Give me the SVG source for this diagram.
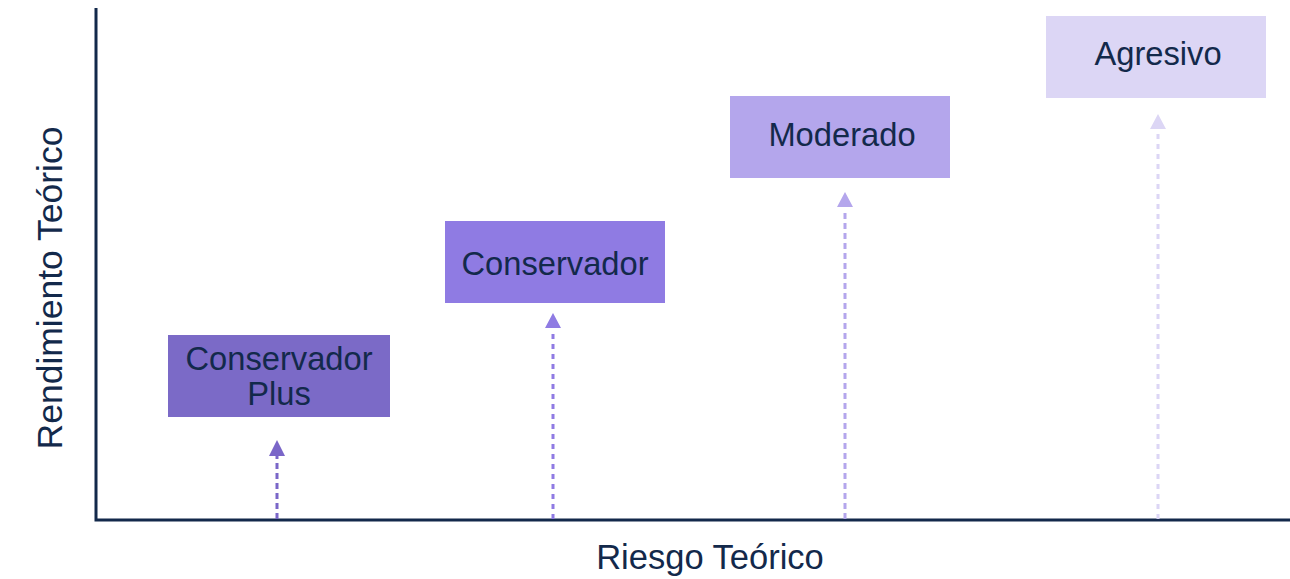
<svg xmlns="http://www.w3.org/2000/svg" width="1290" height="579" viewBox="0 0 1290 579">
<style>
  .lbl{font-family:"Liberation Sans",Arial,sans-serif;font-size:32.7px;fill:#13294b;text-anchor:middle}
  .ax{font-family:"Liberation Sans",Arial,sans-serif;font-size:34.5px;fill:#13294b;text-anchor:middle}
  .axv{font-family:"Liberation Sans",Arial,sans-serif;font-size:35.5px;fill:#13294b;text-anchor:middle}
  .axis{stroke:#13294b;stroke-width:3;fill:none}
</style>
<rect width="1290" height="579" fill="#ffffff"/>
<g id="axes">
  <polyline class="axis" points="96,8 96,520 1290,520"/>
  <text class="ax" x="710" y="569">Riesgo Teórico</text>
  <text class="axv" transform="translate(62,288) rotate(-90)" x="0" y="0">Rendimiento Teórico</text>
</g>
<g id="connectors">
  <line x1="277" y1="519" x2="277" y2="456" stroke="#7a66c8" stroke-width="3" stroke-dasharray="6,4"/>
  <polygon points="277,440 269,456 285,456" fill="#7a66c8"/>
  <line x1="553" y1="519" x2="553" y2="330" stroke="#8f7be3" stroke-width="3" stroke-dasharray="5,5"/>
  <polygon points="553,313 545,328 561,328" fill="#8f7be3"/>
  <line x1="845" y1="519" x2="845" y2="209" stroke="#b4a6ec" stroke-width="3" stroke-dasharray="6,4"/>
  <polygon points="845,192 837,207 853,207" fill="#b4a6ec"/>
  <line x1="1158" y1="519" x2="1158" y2="131" stroke="#dcd6f5" stroke-width="3" stroke-dasharray="5,5"/>
  <polygon points="1158,114 1150,129 1166,129" fill="#dcd6f5"/>
</g>
<g id="node-conservador-plus">
  <rect x="168" y="335" width="222" height="82" fill="#7b6ac7"/>
  <text class="lbl" x="279" y="370">Conservador</text>
  <text class="lbl" x="279" y="405">Plus</text>
</g>
<g id="node-conservador">
  <rect x="445" y="221" width="220" height="82" fill="#8f7be3"/>
  <text class="lbl" x="555" y="275">Conservador</text>
</g>
<g id="node-moderado">
  <rect x="730" y="96" width="220" height="82" fill="#b4a6ec"/>
  <text class="lbl" x="842" y="146">Moderado</text>
</g>
<g id="node-agresivo">
  <rect x="1046" y="16" width="220" height="82" fill="#dcd6f5"/>
  <text class="lbl" x="1158" y="65">Agresivo</text>
</g>
</svg>
